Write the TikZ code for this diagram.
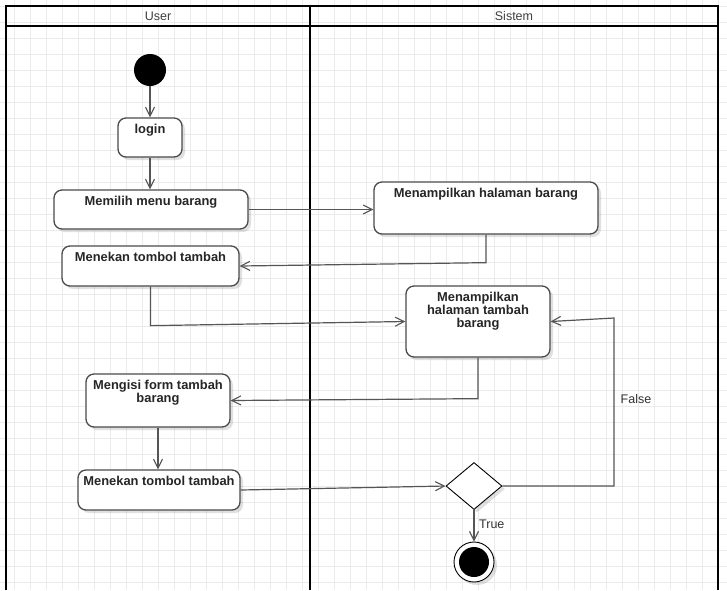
\documentclass[tikz,border=0pt]{standalone}
\usepackage{fontspec}
\setmainfont{Liberation Sans}
\usetikzlibrary{arrows.meta,shapes.geometric,shadows,calc}
\definecolor{linegray}{HTML}{555555}
\definecolor{boxgray}{HTML}{4A4A4A}
\definecolor{gridgray}{HTML}{EBEBEB}
\definecolor{txtdark}{HTML}{262626}
\begin{document}
\begin{tikzpicture}[x=1pt,y=-1pt,
  gridline/.style={draw=gridgray, line width=0.8pt},
  lane/.style={draw=black, line width=2.6pt},
  lanetext/.style={font=\fontsize{12.5}{14}\selectfont, text=black!75},
  flow/.style={draw=linegray, line width=1.2pt, -{Straight Barb[length=9pt,width=9pt,line width=1.1pt]}},
  act/.style={draw=boxgray, line width=1.3pt, fill=white, rounded corners=8pt, inner sep=0pt,
    drop shadow={shadow xshift=3pt, shadow yshift=-3pt, opacity=0.12, fill=black}},
  acttext/.style={font=\bfseries\fontsize{12.9}{13}\selectfont, text=txtdark, align=center, inner sep=0pt},
  dec/.style={diamond, draw=black, line width=0.9pt, fill=white, inner sep=0pt, minimum width=56pt, minimum height=47pt,
    drop shadow={shadow xshift=3pt, shadow yshift=-3pt, opacity=0.12, fill=black}},
  guard/.style={font=\fontsize{12.5}{14}\selectfont, text=black!80, inner sep=0pt}
]
\useasboundingbox (0,0) rectangle (727,590);
\fill[white] (0,0) rectangle (727,590);
% grid
\foreach \gx in {14,30,...,727} \draw[gridline] (\gx,0) -- (\gx,590);
\foreach \gy in {6,22,...,590} \draw[gridline] (0,\gy) -- (727,\gy);
% swimlanes
\draw[lane] (6,590) -- (6,6) -- (718,6) -- (718,590);
\draw[lane] (6,26) -- (718,26);
\draw[lane] (310,6) -- (310,590);
\node[lanetext] (userlane) at (158,16.5) {User};
\node[lanetext] (sistemlane) at (514,16.5) {Sistem};

% start
\node[circle, fill=black, minimum size=32pt, inner sep=0pt] (start) at (150,70) {};

% activities
\node[act, minimum width=64pt, minimum height=39pt] (login) at (150,137.5) {};
\node[acttext, anchor=north] (loginT) at ($(login.north)+(0,6.5)$) {login};

\node[act, minimum width=194pt, minimum height=39pt] (memilih) at (151,209.5) {};
\node[acttext, anchor=north] (memilihT) at ($(memilih.north)+(0,6.5)$) {Memilih menu barang};

\node[act, minimum width=224pt, minimum height=52pt] (halbarang) at (486,208) {};
\node[acttext, anchor=north] (halbarangT) at ($(halbarang.north)+(0,6.5)$) {Menampilkan halaman barang};

\node[act, minimum width=177pt, minimum height=40pt] (tekan1) at (150.5,266) {};
\node[acttext, anchor=north] (tekan1T) at ($(tekan1.north)+(0,6.5)$) {Menekan tombol tambah};

\node[act, minimum width=144pt, minimum height=71pt] (haltambah) at (478,321.5) {};
\node[acttext, anchor=north] (haltambahT) at ($(haltambah.north)+(0,6.5)$) {Menampilkan\\halaman tambah\\barang};

\node[act, minimum width=144pt, minimum height=53pt] (isi) at (158,400.5) {};
\node[acttext, anchor=north] (isiT) at ($(isi.north)+(0,6.5)$) {Mengisi form tambah\\barang};

\node[act, minimum width=162pt, minimum height=40pt] (tekan2) at (159,490) {};
\node[acttext, anchor=north] (tekan2T) at ($(tekan2.north)+(0,6.5)$) {Menekan tombol tambah};

% decision
\node[dec] (decide) at (474,486) {};

% end
\node[circle, draw=black, line width=0.9pt, fill=white, minimum size=40pt, inner sep=0pt,
  drop shadow={shadow xshift=3pt, shadow yshift=-3pt, opacity=0.12, fill=black}] (final) at (474,562) {};
\node[circle, fill=black, minimum size=30pt, inner sep=0pt] (finalin) at (474,562) {};

% connectors
\draw[flow] (start) -- (login);
\draw[flow] (login) -- (login.south |- memilih.north);
\draw[flow] (memilih.east) -- (memilih.east -| halbarang.west);
\coordinate (c1) at ($(halbarang.south)+(0,28)$);
\draw[flow] (halbarang.south) -- (c1) -- (tekan1.east);
\coordinate (c2) at ($(tekan1.south)+(0,39)$);
\draw[flow] (tekan1.south) -- (c2) -- (haltambah.west);
\coordinate (c3) at ($(haltambah.south)+(0,41)$);
\draw[flow] (haltambah.south) -- (c3) -- (isi.east);
\draw[flow] (isi.south) -- (isi.south |- tekan2.north);
\draw[flow] (tekan2.east) -- (decide.west);
\coordinate (c4) at (614,318);
\draw[flow] (decide.east) -| (c4) -- (haltambah.east);
\draw[flow] (decide.south) -- (final.north);

% guards
\node[guard, anchor=west] (trueL) at (479,524) {True};
\node[guard] (falseL) at (636,399) {False};
\end{tikzpicture}
\end{document}
